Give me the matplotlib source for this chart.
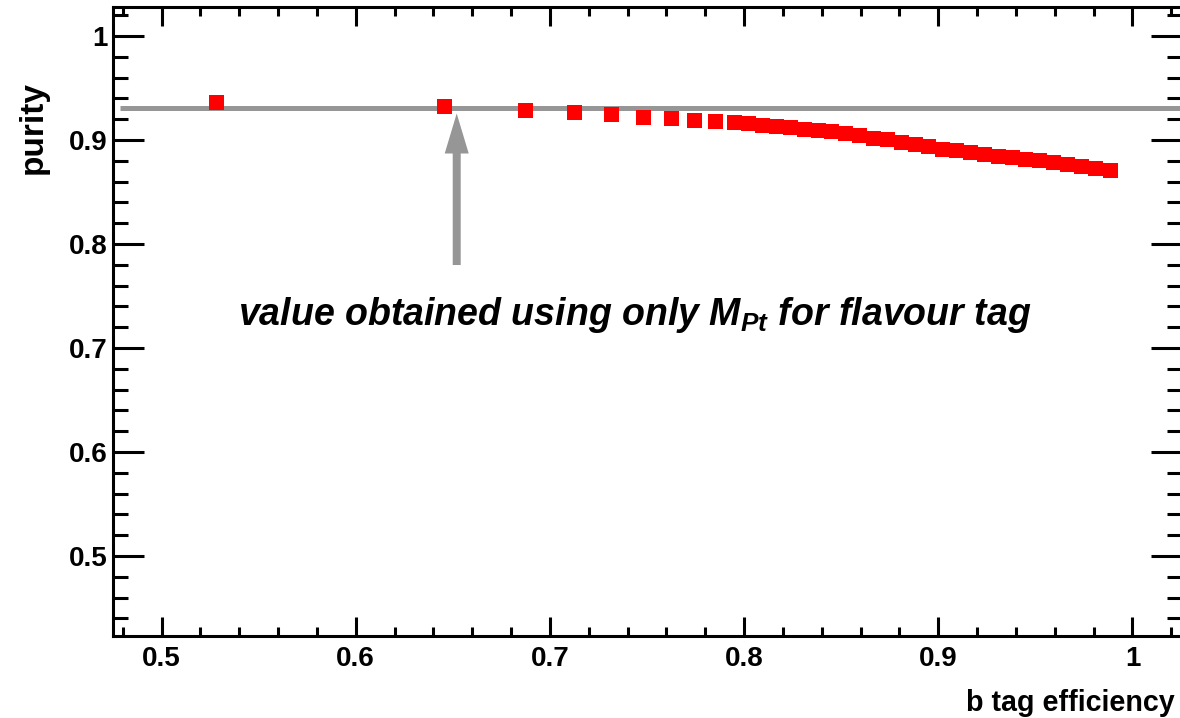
import matplotlib
matplotlib.use("Agg")
import matplotlib.pyplot as plt

# 数据：b tag 效率 vs purity（读自参考图）
b_tag_eff = [0.5281, 0.6456, 0.6871, 0.7124, 0.7312, 0.7479, 0.7624, 0.7740,
             0.7848, 0.7946, 0.8021, 0.8092, 0.8163, 0.8235, 0.8306, 0.8378,
             0.8449, 0.8521, 0.8592, 0.8664, 0.8735, 0.8807, 0.8878, 0.8949,
             0.9021, 0.9092, 0.9164, 0.9235, 0.9307, 0.9378, 0.9449, 0.9521,
             0.9592, 0.9664, 0.9735, 0.9807, 0.9884]
purity = [0.9365, 0.9327, 0.9293, 0.9274, 0.9250, 0.9226, 0.9207, 0.9195,
          0.9183, 0.9173, 0.9159, 0.9149, 0.9137, 0.9122, 0.9106, 0.9093,
          0.9082, 0.9067, 0.9048, 0.9024, 0.9005, 0.8981, 0.8959, 0.8938,
          0.8918, 0.8902, 0.8885, 0.8868, 0.8851, 0.8837, 0.8817, 0.8805,
          0.8790, 0.8772, 0.8752, 0.8731, 0.8716]

# 只用 M_Pt 做 flavour tag 得到的参考值
ref_purity = 0.9305
ref_eff = 0.652

x_major = [0.5, 0.6, 0.7, 0.8, 0.9, 1.0]
x_labels = ["0.5", "0.6", "0.7", "0.8", "0.9", "1"]
y_major = [0.5, 0.6, 0.7, 0.8, 0.9, 1.0]
y_labels = ["0.5", "0.6", "0.7", "0.8", "0.9", "1"]
minor_ticks = [round(0.42 + 0.02 * i, 2) for i in range(31)]

FONT = "Liberation Sans"
GRAY = "#969696"
plt.rcParams["font.family"] = [FONT, "DejaVu Sans"]
plt.rcParams["mathtext.fontset"] = "custom"
plt.rcParams["mathtext.it"] = FONT + ":italic:bold"
plt.rcParams["mathtext.rm"] = FONT + ":bold"

W, H = 1180, 718
fig = plt.figure(figsize=(W / 100, H / 100), dpi=100)
ax = fig.add_axes([113 / W, 1 - 636 / H, (1182 - 113) / W, (636 - 7) / H])

ax.set_xlim(0.475, 1.0255)
ax.set_ylim(0.4231, 1.0279)

# 参考水平线 + 箭头
ax.plot([0.4787, 1.03], [ref_purity, ref_purity], color=GRAY, lw=3.6,
        solid_capstyle="butt", zorder=2)
ax.arrow(ref_eff, 0.7798, 0, (ref_purity - 0.005) - 0.7798,
         width=8 / 1940, head_width=24 / 1940, head_length=40 / 1040,
         length_includes_head=True, color=GRAY, lw=0, zorder=3)

# 数据点
ax.plot(b_tag_eff, purity, "s", color="red", markersize=10.8,
        markeredgewidth=0, zorder=4)

ax.text(0.5392, 0.7221, r"value obtained using only $M_{Pt}$ for flavour tag",
        fontsize=27, fontweight="bold", fontstyle="italic",
        ha="left", va="baseline")

# 坐标轴（ROOT 风格：刻度朝内，四边都有）
ax.set_xticks(x_major)
ax.set_xticklabels(x_labels)
ax.set_yticks(y_major)
ax.set_yticklabels(y_labels)
ax.set_xticks([t for t in minor_ticks if 0.475 < t < 1.0255], minor=True)
ax.set_yticks([t for t in minor_ticks if 0.4231 < t < 1.0279], minor=True)
ax.tick_params(which="both", direction="in", top=True, right=True,
               width=2.2, color="black")
ax.tick_params(axis="x", which="major", length=13.7, pad=7.5)
ax.tick_params(axis="x", which="minor", length=6.8)
ax.tick_params(axis="y", which="major", length=22, pad=4)
ax.tick_params(axis="y", which="minor", length=10.8)
for lab in ax.get_xticklabels() + ax.get_yticklabels():
    lab.set_fontsize(20)
    lab.set_fontweight("bold")
for sp in ax.spines.values():
    sp.set_linewidth(2.2)

fig.text(1175 / W, 1 - 711 / H, "b tag efficiency", fontsize=20.6,
         fontweight="bold", ha="right", va="baseline")
fig.text(33 / W, 1 - 127 / H, "purity", fontsize=24, fontweight="bold",
         rotation=90, ha="center", va="center")

fig.savefig("out.png", dpi=100, facecolor="white")
